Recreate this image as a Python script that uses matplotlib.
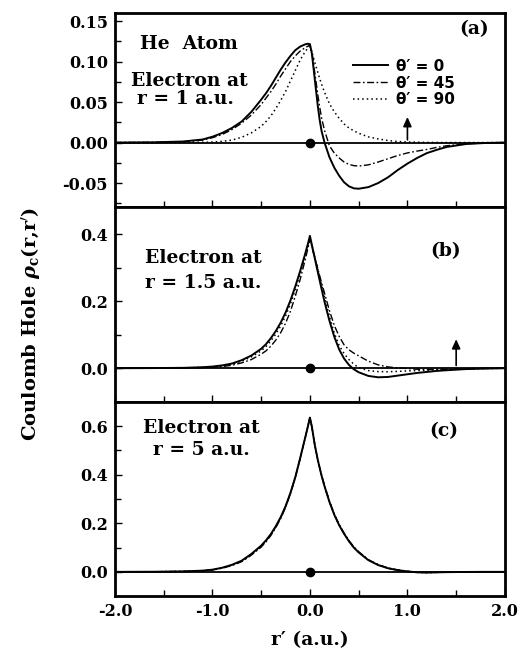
import matplotlib
matplotlib.use("Agg")
import matplotlib.pyplot as plt
from matplotlib.ticker import MultipleLocator

# r' grid (a.u.) shared by all curves
r_grid = [-2.0, -1.6, -1.3, -1.1, -1.0, -0.9, -0.8, -0.7, -0.6, -0.5, -0.45, -0.4, -0.35, -0.3, -0.25,
          -0.2, -0.15, -0.1, -0.05, -0.02, 0.0, 0.02, 0.05, 0.08, 0.1, 0.12, 0.15, 0.2, 0.25, 0.3, 0.35,
          0.4, 0.45, 0.5, 0.6, 0.7, 0.8, 0.9, 1.0, 1.1, 1.2, 1.3, 1.4, 1.6, 1.8, 2.0]

# panel (a): electron at r = 1 a.u.
a_0 = [0.0, 0.0003, 0.0013, 0.0038, 0.0072, 0.0118, 0.018, 0.026, 0.038, 0.053, 0.061, 0.070, 0.080, 0.090,
       0.099, 0.107, 0.114, 0.1185, 0.1212, 0.122, 0.1215, 0.110, 0.078, 0.046, 0.028, 0.014, 0.0, -0.018,
       -0.031, -0.041, -0.049, -0.054, -0.0565, -0.057, -0.055, -0.050, -0.043, -0.034, -0.026, -0.019,
       -0.013, -0.009, -0.0055, -0.0018, -0.0005, 0.0]
a_45 = [0.0, 0.0002, 0.001, 0.003, 0.006, 0.010, 0.016, 0.024, 0.034, 0.047, 0.055, 0.063, 0.072, 0.082,
        0.091, 0.100, 0.107, 0.113, 0.117, 0.119, 0.1205, 0.112, 0.086, 0.060, 0.044, 0.030, 0.015, -0.004,
        -0.013, -0.019, -0.024, -0.027, -0.0285, -0.029, -0.0275, -0.024, -0.020, -0.016, -0.0128, -0.0105,
        -0.0085, -0.006, -0.004, -0.0015, -0.0004, 0.0]
a_90 = [0.0, 0.0, 0.0001, 0.0003, 0.0006, 0.0015, 0.003, 0.0065, 0.012, 0.020, 0.026, 0.033, 0.042, 0.052,
        0.063, 0.076, 0.089, 0.102, 0.112, 0.117, 0.119, 0.112, 0.099, 0.087, 0.079, 0.072, 0.062, 0.048,
        0.038, 0.030, 0.023, 0.018, 0.0145, 0.0115, 0.007, 0.0045, 0.0025, 0.0013, 0.0007, 0.0004, 0.0002,
        0.0001, 0.0, 0.0, 0.0, 0.0]

# panel (b): electron at r = 1.5 a.u.
b_0 = [0.0, 0.0005, 0.0012, 0.003, 0.005, 0.0085, 0.014, 0.024, 0.038, 0.058, 0.072, 0.090, 0.111, 0.136,
       0.166, 0.202, 0.244, 0.290, 0.340, 0.372, 0.395, 0.368, 0.328, 0.288, 0.262, 0.236, 0.198, 0.142,
       0.094, 0.056, 0.029, 0.010, -0.003, -0.012, -0.023, -0.027, -0.026, -0.022, -0.018, -0.014, -0.011,
       -0.008, -0.006, -0.0025, -0.001, 0.0]
b_45 = [0.0, 0.0003, 0.001, 0.002, 0.003, 0.005, 0.009, 0.016, 0.026, 0.042, 0.052, 0.066, 0.084, 0.106,
        0.134, 0.170, 0.215, 0.265, 0.322, 0.358, 0.385, 0.362, 0.330, 0.298, 0.276, 0.255, 0.224, 0.172,
        0.128, 0.095, 0.070, 0.055, 0.045, 0.037, 0.021, 0.010, 0.004, 0.001, -0.001, -0.003, -0.004,
        -0.0035, -0.003, -0.0015, -0.0005, 0.0]
b_90 = [0.0, 0.0004, 0.001, 0.0025, 0.004, 0.007, 0.012, 0.021, 0.034, 0.052, 0.065, 0.082, 0.102, 0.126,
        0.156, 0.192, 0.234, 0.282, 0.334, 0.366, 0.390, 0.366, 0.331, 0.296, 0.272, 0.248, 0.212, 0.155,
        0.105, 0.068, 0.044, 0.026, 0.012, 0.002, -0.007, -0.010, -0.0105, -0.0095, -0.008, -0.007, -0.006,
        -0.005, -0.004, -0.002, -0.0007, 0.0]

# panel (c): electron at r = 5 a.u.
c_0 = [0.0, 0.0005, 0.002, 0.005, 0.009, 0.017, 0.029, 0.046, 0.074, 0.108, 0.130, 0.156, 0.188, 0.225,
       0.270, 0.325, 0.390, 0.468, 0.550, 0.600, 0.635, 0.597, 0.522, 0.462, 0.428, 0.395, 0.352, 0.288,
       0.235, 0.192, 0.157, 0.126, 0.100, 0.080, 0.048, 0.028, 0.015, 0.007, 0.002, -0.002, -0.003, -0.002,
       -0.0012, -0.0004, 0.0, 0.0]
c_45 = [0.0, 0.0004, 0.0018, 0.0045, 0.008, 0.015, 0.026, 0.042, 0.069, 0.102, 0.124, 0.150, 0.182, 0.219,
        0.265, 0.321, 0.387, 0.466, 0.549, 0.600, 0.634, 0.597, 0.522, 0.463, 0.429, 0.397, 0.354, 0.291,
        0.238, 0.194, 0.160, 0.129, 0.103, 0.083, 0.050, 0.030, 0.016, 0.008, 0.002, -0.0015, -0.0025,
        -0.002, -0.001, -0.0004, 0.0, 0.0]
c_90 = [0.0, 0.0004, 0.0019, 0.0048, 0.0085, 0.016, 0.027, 0.044, 0.071, 0.105, 0.127, 0.153, 0.185, 0.222,
        0.267, 0.323, 0.388, 0.467, 0.549, 0.600, 0.634, 0.597, 0.522, 0.462, 0.428, 0.396, 0.353, 0.290,
        0.236, 0.193, 0.158, 0.127, 0.101, 0.081, 0.049, 0.029, 0.015, 0.007, 0.002, -0.002, -0.003,
        -0.002, -0.0012, -0.0004, 0.0, 0.0]

legend_labels = ["\u03b8\u2032 = 0", "\u03b8\u2032 = 45", "\u03b8\u2032 = 90"]

plt.rcParams["font.family"] = "DejaVu Serif"
plt.rcParams["font.weight"] = "bold"
plt.rcParams["mathtext.fontset"] = "dejavuserif"

fig, axes = plt.subplots(3, 1, figsize=(5.2, 6.48), dpi=100, sharex=True)
fig.subplots_adjust(left=0.221, right=0.971, top=0.980, bottom=0.080, hspace=0)

dashdot = (0, (5, 1.8, 1.2, 1.8))
panels = [
    (a_0, a_45, a_90, (-0.08, 0.16), 0.05, 0.025, "%.2f"),
    (b_0, b_45, b_90, (-0.1, 0.48), 0.2, 0.1, "%.1f"),
    (c_0, c_45, c_90, (-0.1, 0.7), 0.2, 0.1, "%.1f"),
]

for ax, (y0, y45, y90, ylim, major, minor, fmt) in zip(axes, panels):
    ax.axhline(0, color="black", lw=1.3, zorder=1)
    ax.plot(r_grid, y0, color="black", lw=1.4, ls="-", label=legend_labels[0])
    ax.plot(r_grid, y45, color="black", lw=1.0, ls=dashdot, label=legend_labels[1])
    ax.plot(r_grid, y90, color="black", lw=1.1, ls=(0, (1, 2)), label=legend_labels[2])
    ax.plot([0.0], [0.0], "o", color="black", ms=6, zorder=5)
    ax.set_xlim(-2.0, 2.0)
    ax.set_ylim(*ylim)
    ax.yaxis.set_major_locator(MultipleLocator(major))
    ax.yaxis.set_minor_locator(MultipleLocator(minor))
    ax.xaxis.set_major_locator(MultipleLocator(1.0))
    ax.xaxis.set_minor_locator(MultipleLocator(0.5))
    ax.yaxis.set_major_formatter(plt.FormatStrFormatter(fmt))
    ax.xaxis.set_major_formatter(plt.FormatStrFormatter("%.1f"))
    ax.tick_params(which="both", direction="in", width=1.0, labelsize=11.5, pad=5)
    ax.tick_params(which="major", length=5)
    ax.tick_params(which="minor", length=4)
    for s in ax.spines.values():
        s.set_linewidth(2.0)

ax_a, ax_b, ax_c = axes
# keep only the labels that show in the figure
ax_a.set_yticks([-0.05, 0.0, 0.05, 0.10, 0.15])
ax_b.set_yticks([0.0, 0.2, 0.4])
ax_c.set_yticks([0.0, 0.2, 0.4, 0.6])
for ax in axes:
    for lab in ax.get_yticklabels() + ax.get_xticklabels():
        lab.set_fontweight("bold")

tf = dict(fontsize=13.5, fontweight="bold", ha="center", va="center")
arrow = dict(arrowstyle="-|>,head_length=0.55,head_width=0.25", color="black", lw=1.2)

ax_a.text(-1.24, 0.1216, "He  Atom", **tf)
ax_a.text(-1.24, 0.0762, "Electron at", **tf)
ax_a.text(-1.28, 0.054, "r = 1 a.u.", **tf)
ax_a.text(1.68, 0.140, "(a)", **tf)
ax_a.annotate("", xy=(1.0, 0.035), xytext=(1.0, 0.0), arrowprops=arrow)

ax_b.text(-1.09, 0.328, "Electron at", **tf)
ax_b.text(-1.09, 0.253, "r = 1.5 a.u.", **tf)
ax_b.text(1.39, 0.349, "(b)", **tf)
ax_b.annotate("", xy=(1.5, 0.095), xytext=(1.5, 0.0), arrowprops=arrow)

ax_c.text(-1.11, 0.593, "Electron at", **tf)
ax_c.text(-1.11, 0.50, "r = 5 a.u.", **tf)
ax_c.text(1.37, 0.58, "(c)", **tf)

ax_a.legend(loc="upper left", bbox_to_anchor=(0.575, 0.835), frameon=False,
            handlelength=2.3, handletextpad=0.5, labelspacing=0.12,
            prop=dict(family="DejaVu Sans", weight="bold", size=11))

ax_c.set_xlabel("r\u2032 (a.u.)", fontsize=13.5, fontweight="bold", labelpad=8)
fig.text(0.058, 0.5, r"Coulomb Hole $\rho_\mathrm{c}$(r,r$'$)", rotation=90,
         fontsize=14, fontweight="bold", ha="center", va="center")

fig.savefig("out.png", dpi=100)
